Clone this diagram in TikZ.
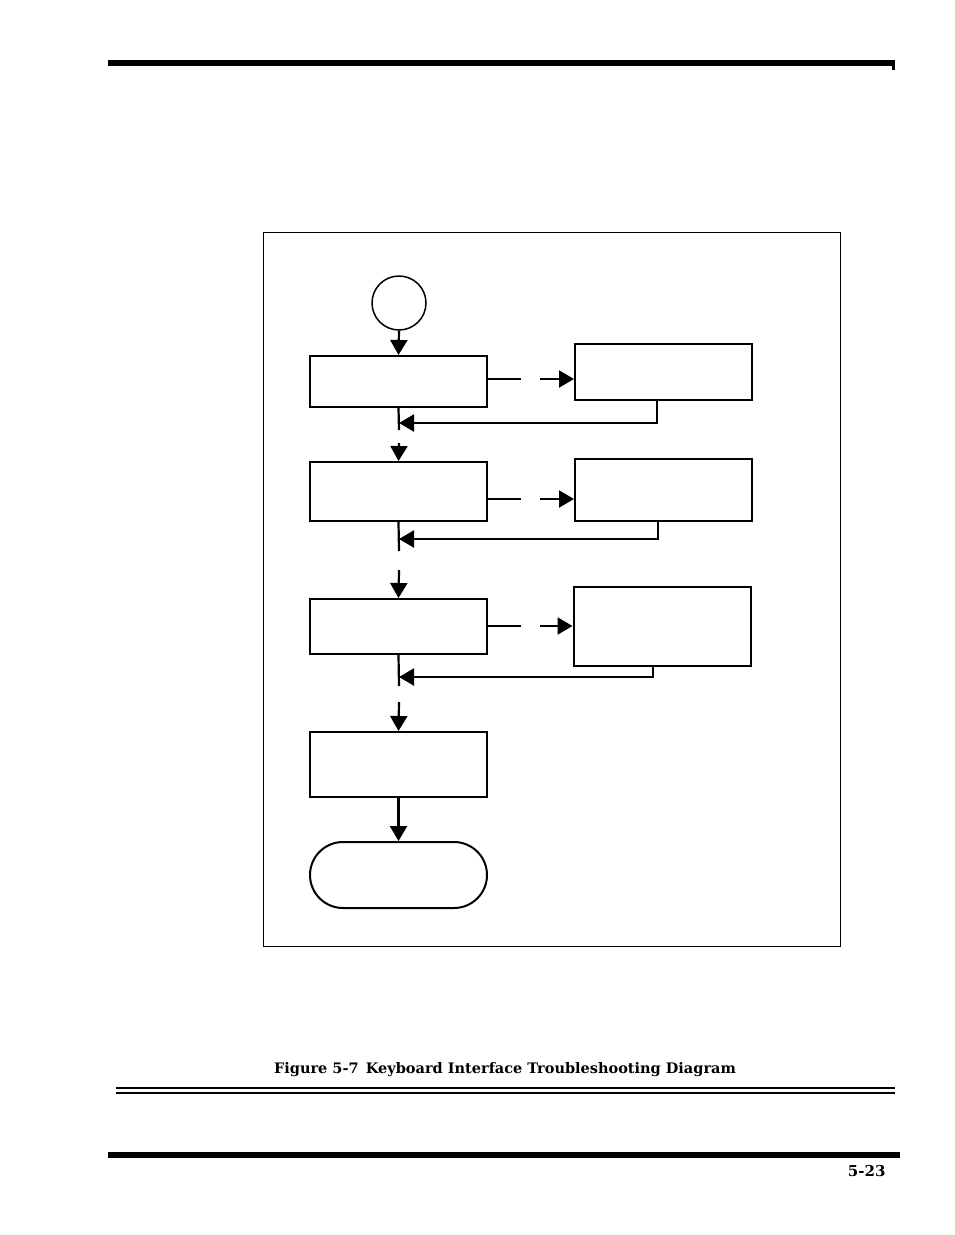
\documentclass[tikz,border=0pt]{standalone}
\usepackage{fontspec}
\setmainfont{DejaVu Serif}
\usetikzlibrary{arrows.meta}
\begin{document}
\begin{tikzpicture}[x=1pt,y=-1pt,
  bx/.style={draw,line width=2pt,minimum width=177pt,inner sep=0pt},
  ar/.style={line width=2.2pt,-{Triangle[length=15pt,width=17pt]}},
  ln/.style={line width=2.2pt}]
\useasboundingbox (0,0) rectangle (954,1235);
\fill (108,60) rectangle (895,66);
\fill (892,60) rectangle (895,70);
\draw[line width=0.8pt] (263,232) rectangle (840,946);
\node[draw,circle,line width=1.5pt,minimum size=54pt,inner sep=0pt] (c) at (399,303) {};
\node[bx,minimum height=51pt] (b1) at (398.5,381.5) {};
\node[bx,minimum height=56pt] (r1) at (663.5,372) {};
\node[bx,minimum height=59pt] (b2) at (398.5,491.5) {};
\node[bx,minimum height=62pt] (r2) at (663.5,490) {};
\node[bx,minimum height=55pt] (b3) at (398.5,626.5) {};
\node[bx,minimum height=79pt] (r3) at (662,626.5) {};
\node[bx,minimum height=65pt] (b4) at (398.5,764.5) {};
\node[draw,line width=2pt,rounded corners=33pt,minimum width=177pt,minimum height=66pt] (t) at (398.5,875) {};
\draw[ar] (c.south) -- (b1.north);
\foreach \b/\r/\y/\ry/\rx/\g/\h in {b1/r1/379/423/657/430/443, b2/r2/499/539/658/551/570, b3/r3/626/677/653/686/702}{
  \draw[ln] (\b.east|-0,\y) -- (521,\y);
  \coordinate (s\b) at (540,\y);
  \draw[ar] (s\b) -- (\r.west|-0,\y);
  \coordinate (k\b) at (399,\ry);
  \draw[ar] (\r.south-|\rx,0) -- (\rx,\ry) -- (k\b);
  \draw[ln] (\b.south) -- (399,\g);
  \coordinate (n\b) at (399,\h);
}
\draw[ar] (nb1) -- (b2.north);
\draw[ar] (nb2) -- (b3.north);
\draw[ar] (nb3) -- (b4.north);
\draw[ar] (b4.south) -- (t.north);
\node[font=\bfseries\fontsize{14.5}{16}\selectfont] (cap) at (505,1070) {Figure 5-7\enspace Keyboard Interface Troubleshooting Diagram};
\draw[line width=1.2pt] (116,1088) -- (895,1088);
\draw[line width=1.2pt] (116,1093) -- (895,1093);
\fill (108,1152) rectangle (900,1158);
\node[font=\bfseries\fontsize{15}{17}\selectfont,anchor=east] (pg) at (889,1171) {5-23};
\end{tikzpicture}
\end{document}
